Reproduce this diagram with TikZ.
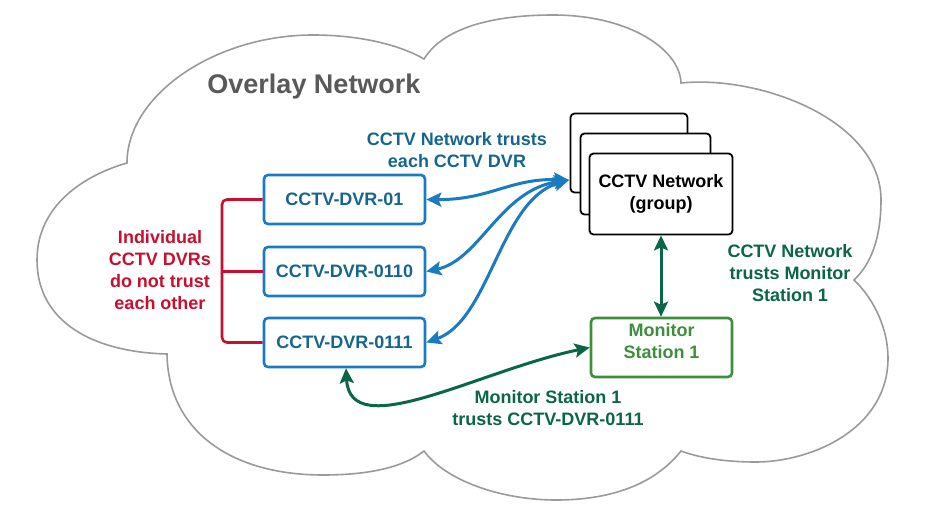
\documentclass[tikz,border=0pt]{standalone}
\usepackage{fontspec}
\setmainfont{Liberation Sans}
\usetikzlibrary{arrows.meta,calc}
\definecolor{cloudgray}{HTML}{9A9A9A}
\definecolor{titlegray}{HTML}{595959}
\definecolor{dvrblue}{HTML}{1B7BC0}
\definecolor{dvrtext}{HTML}{15668E}
\definecolor{redc}{HTML}{C8102E}
\definecolor{dkgreen}{HTML}{0B6648}
\definecolor{ltgreen}{HTML}{3D8F3A}
\tikzset{
  dvrbox/.style={draw=dvrblue, line width=2.6pt, rounded corners=4pt, fill=white,
    minimum width=161pt, minimum height=49pt, inner sep=0pt,
    text=dvrtext, font=\bfseries\fontsize{18}{22}\selectfont},
  grpbox/.style={draw=black, line width=1.8pt, rounded corners=4pt, fill=white, inner sep=0pt},
  monbox/.style={draw=ltgreen, line width=2.6pt, rounded corners=4pt, fill=white,
    minimum width=141pt, minimum height=59pt, inner sep=0pt},
  lbl/.style={align=center, font=\bfseries\fontsize{18}{22}\selectfont, inner sep=0pt},
  bluearrow/.style={draw=dvrblue, line width=3pt,
    {Stealth[length=15pt,width=14pt,inset=3pt]}-{Stealth[length=15pt,width=14pt,inset=3pt]}},
  greenarrow/.style={draw=dkgreen, line width=3pt,
    {Stealth[length=15pt,width=14pt,inset=3pt]}-{Stealth[length=15pt,width=14pt,inset=3pt]}},
  redline/.style={draw=redc, line width=2.6pt},
}
\begin{document}
\begin{tikzpicture}[x=1pt,y=-1pt]
\useasboundingbox (0,0) rectangle (936,518);
% cloud
\draw[cloudgray, line width=1.6pt, fill=white]
  (127,163) .. controls (127,95) and (215,35) .. (313,35)
  .. controls (360,35) and (400,45) .. (424,59)
  .. controls (445,25) and (500,15) .. (553,15)
  .. controls (630,15) and (680,50) .. (681,83)
  .. controls (760,75) and (881,120) .. (881,200)
  .. controls (881,240) and (870,265) .. (854,280)
  .. controls (875,300) and (888,330) .. (888,358)
  .. controls (888,430) and (810,462) .. (756,462)
  .. controls (725,462) and (700,458) .. (681,451)
  .. controls (650,490) and (600,500) .. (556,500)
  .. controls (500,500) and (445,480) .. (424,451)
  .. controls (400,470) and (360,475) .. (323,475)
  .. controls (230,475) and (168,430) .. (167,354)
  .. controls (90,352) and (37,320) .. (37,260)
  .. controls (37,205) and (85,175) .. cycle;
\node[font=\bfseries\fontsize{27}{32}\selectfont, text=titlegray, inner sep=0pt] (title) at (314,87) {Overlay Network};

% DVR boxes
\node[dvrbox] (dvr1) at (344.5,199.5) {CCTV-DVR-01};
\node[dvrbox] (dvr2) at (344.5,271.5) {CCTV-DVR-0110};
\node[dvrbox] (dvr3) at (344.5,342.5) {CCTV-DVR-0111};

% group stack
\node[grpbox, minimum width=117pt, minimum height=79pt] (back) at (629,153) {};
\node[grpbox, minimum width=130pt, minimum height=81pt] (mid) at (645.5,174) {};
\node[grpbox, minimum width=143pt, minimum height=81pt, align=center,
  font=\bfseries\fontsize{18}{22}\selectfont] (front) at (661,194) {CCTV Network\\(group)};

% monitor
\node[monbox] (mon) at (661.5,347.5) {};
\node[lbl, text=ltgreen] (montxt) at ([yshift=6pt]mon.center) {Monitor\\Station 1};

% red bracket
\coordinate (rb) at (222,271.5);
\draw[redline, rounded corners=5pt] (dvr1.west) -| (rb) |- (dvr3.west);
\draw[redline] (dvr2.west) -- (rb);
\node[lbl, text=redc] (redtxt) at (160,270) {Individual\\CCTV DVRs\\do not trust\\each other};

% blue arrows
\coordinate (gtip) at (569,180);
\draw[bluearrow] (dvr1.east) .. controls (490,200) and (510,178) .. (gtip);
\draw[bluearrow] (dvr2.east) .. controls (480,260) and (500,190) .. (gtip);
\draw[bluearrow] (dvr3.east) .. controls (490,320) and (500,200) .. (gtip);
\node[lbl, text=dvrtext] (bluetxt) at (457,150) {CCTV Network trusts\\each CCTV DVR};

% green arrows
\draw[greenarrow] (front.south) -- (front.south |- mon.north);
\node[lbl, text=dkgreen] (g1txt) at (790,273) {CCTV Network\\trusts Monitor\\Station 1};
\draw[greenarrow] ([xshift=1.5pt]dvr3.south) .. controls (350,445) and (480,370) .. (mon.west);
\node[lbl, text=dkgreen] (g2txt) at (548,408) {Monitor Station 1\\trusts CCTV-DVR-0111};
\end{tikzpicture}
\end{document}
